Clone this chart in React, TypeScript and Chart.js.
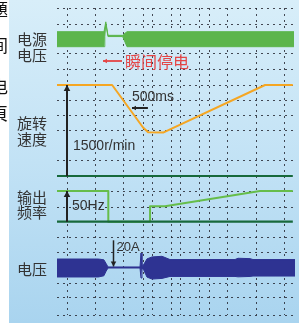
import React, { useEffect, useRef } from "react";
import { Chart, registerables } from "chart.js";

Chart.register(...registerables);

// ---------- data (time in ms) ----------
const timeMax = 7500;
const gridTimes = [310, 1190, 2070, 2700, 2980, 3580, 3860, 4460, 4770, 5330, 6240, 7120];
const gridRows = [8, 23.5, 53, 69, 85, 100, 115, 130, 160, 191, 206.5, 236.7, 252.3, 282.7, 297, 315];

// supply voltage envelope (V)
const supplyTimes = [0, 1475, 1500, 1531, 1600, 2059, 2090, 2197, 7437];
const supplyUpper = [311, 311, 311, 720, 160, 160, 200, 311, 311];
const supplyLower = [-311, -311, 120, 640, 110, 110, 20, -311, -311];

// motor speed (r/min)
const speedTimes = [0, 1730, 2700, 2860, 3330, 6530, 7400];
const speedRpm = [1500, 1500, 800, 720, 715, 1500, 1500];

// output frequency (Hz)
const freqTimes = [0, 1610, 1610, 2920, 2920, 3390, 6370, 7400];
const freqHz = [50, 50, 0, 0, 25, 25, 50, 50];

// current envelope (A)
const currentTimes = [0, 1300, 1470, 1540, 1600, 2605, 2636, 2667, 2730, 2824, 2981, 3295, 3546, 5586, 5680, 6057, 6151, 7469];
const currentUpper = [6.9, 6.9, 6.3, 3.5, 0.8, 0.8, 11.5, 1, 3, 7, 8.5, 9, 6.5, 6.5, 7.5, 7.2, 6.5, 6.5];
const currentLower = [-6.9, -6.9, -6.0, -2.5, 0, 0, -7.7, 0, -2, -7, -8.5, -8, -6.5, -6.5, -6.8, -6.5, -6.2, -6.2];

const baselineTimes = [0, 7400];

// labels
const panelLabels = [["电源", "电压"], ["旋转", "速度"], ["输出", "频率"], ["电压"]];
const outageLabel = "瞬间停电";
const speedScaleLabel = "1500r/min";
const timeScaleLabel = "500ms";
const freqScaleLabel = "50Hz";
const currentScaleLabel = "20A";
const edgeChars = ["題", "间", "电", "頁"];

// ---------- layout ----------
const W = 299, H = 323;
const AREA = { left: 57, right: 296, top: 8, bottom: 315 };
// [upper value, its pixel, lower value, its pixel]
const anchors: Record<string, number[]> = {
  ySpeed: [1500, 85, 0, 176],
  yFreq: [50, 191, 0, 221.7],
  ySupply: [311, 31.7, 0, 39.2],
  yCurrent: [20, 242, 0, 268],
};
function rangeFor(a: number[]) {
  const [v1, p1, v2, p2] = a;
  const k = (v1 - v2) / (p2 - p1);
  return { min: v1 - (AREA.bottom - p1) * k, max: v1 + (p1 - AREA.top) * k };
}

const C = {
  supply: "#5cb54c",
  speed: "#f5a623",
  freq: "#66bd4a",
  base: "#17693b",
  current: "#2e3392",
  grid: "rgba(30,30,40,0.8)",
  text: "#333333",
  red: "#e54545",
  arrow: "#222222",
};

const pts = (xs: number[], ys: number[]) => xs.map((x, i) => ({ x, y: ys[i] }));

function arrow(ctx: CanvasRenderingContext2D, x1: number, y1: number, x2: number, y2: number, color: string, lw: number, headEnd: boolean, headStart: boolean, hs = 5) {
  ctx.save();
  ctx.strokeStyle = color;
  ctx.fillStyle = color;
  ctx.lineWidth = lw;
  ctx.setLineDash([]);
  ctx.beginPath();
  ctx.moveTo(x1, y1);
  ctx.lineTo(x2, y2);
  ctx.stroke();
  const head = (xa: number, ya: number, xb: number, yb: number) => {
    const ang = Math.atan2(yb - ya, xb - xa);
    ctx.beginPath();
    ctx.moveTo(xb, yb);
    ctx.lineTo(xb - hs * Math.cos(ang) + (hs * 0.55) * Math.sin(ang), yb - hs * Math.sin(ang) - (hs * 0.55) * Math.cos(ang));
    ctx.lineTo(xb - hs * Math.cos(ang) - (hs * 0.55) * Math.sin(ang), yb - hs * Math.sin(ang) + (hs * 0.55) * Math.cos(ang));
    ctx.closePath();
    ctx.fill();
  };
  if (headEnd) head(x1, y1, x2, y2);
  if (headStart) head(x2, y2, x1, y1);
  ctx.restore();
}

const drawPlugin = {
  id: "scopeDecor",
  beforeDraw(chart: any) {
    const { ctx } = chart;
    ctx.save();
    ctx.fillStyle = "#ffffff";
    ctx.fillRect(0, 0, W, H);
    const g = ctx.createLinearGradient(0, 0, 0, H);
    g.addColorStop(0, "#d8eef9");
    g.addColorStop(0.5, "#c2e2f5");
    g.addColorStop(1, "#a9d4ef");
    ctx.fillStyle = g;
    ctx.fillRect(9, 0, W - 9, H);
    // cut-off characters of a neighbouring column
    ctx.fillStyle = "#111";
    ctx.font = "17px 'Noto Sans CJK SC'";
    ctx.textAlign = "right";
    ctx.textBaseline = "middle";
    const ey = [10, 46, 87, 114];
    edgeChars.forEach((c, i) => ctx.fillText(c, 8, ey[i]));
    // panel labels
    ctx.fillStyle = C.text;
    ctx.font = "15px 'Noto Sans CJK SC'";
    ctx.textAlign = "center";
    const centers = [[39.5, 55], [123.5, 139], [197, 212.5], [269]];
    panelLabels.forEach((lines, i) => lines.forEach((l, j) => ctx.fillText(l, 32, centers[i][j])));
    ctx.restore();
  },
  beforeDatasetsDraw(chart: any) {
    const { ctx, chartArea: a, scales } = chart;
    ctx.save();
    ctx.strokeStyle = C.grid;
    ctx.lineWidth = 1;
    ctx.setLineDash([2, 4]);
    for (const t of gridTimes) {
      const x = Math.round(scales.x.getPixelForValue(t)) + 0.5;
      ctx.beginPath();
      ctx.moveTo(x, a.top);
      ctx.lineTo(x, a.bottom);
      ctx.stroke();
    }
    for (const r of gridRows) {
      const y = Math.round(scales.yGrid.getPixelForValue(r)) + 0.5;
      ctx.beginPath();
      ctx.moveTo(a.left, y);
      ctx.lineTo(a.right, y);
      ctx.stroke();
    }
    ctx.restore();
  },
  afterDatasetsDraw(chart: any) {
    const { ctx, scales } = chart;
    const X = (t: number) => scales.x.getPixelForValue(t);
    const S = (v: number) => scales.ySpeed.getPixelForValue(v);
    const F = (v: number) => scales.yFreq.getPixelForValue(v);
    const V = (v: number) => scales.ySupply.getPixelForValue(v);
    const I = (v: number) => scales.yCurrent.getPixelForValue(v);
    const xa = Math.round(X(gridTimes[0]));
    arrow(ctx, xa, S(0), xa, S(1500), C.arrow, 2, true, false, 6);
    arrow(ctx, xa, F(0), xa, F(50), C.arrow, 2, true, false, 6);
    const xi = Math.round(X(1757)) + 0.5;
    arrow(ctx, xi, I(21.3), xi, I(1.2), C.arrow, 1.5, true, false, 5);
    arrow(ctx, X(2353), S(1121), X(2853), S(1121), C.arrow, 2, false, true, 4);
    arrow(ctx, X(1443), V(-904), X(2040), V(-904), C.red, 1.8, false, true, 4);

    ctx.save();
    ctx.textBaseline = "middle";
    ctx.textAlign = "left";
    ctx.fillStyle = C.text;
    ctx.font = "14px 'Liberation Sans', Arial";
    ctx.fillText(speedScaleLabel, X(502), S(495));
    ctx.fillText(timeScaleLabel, X(2353), S(1294));
    ctx.fillText(freqScaleLabel, X(471), F(25.6));
    ctx.font = "13px 'Liberation Sans', Arial";
    ctx.fillText(currentScaleLabel, X(1867), I(15.8));
    ctx.fillStyle = C.red;
    ctx.font = "16px 'Noto Sans CJK SC'";
    ctx.fillText(outageLabel, X(2134), V(-945));
    ctx.restore();
  },
};

export default function App() {
  const ref = useRef<HTMLCanvasElement | null>(null);
  useEffect(() => {
    if (!ref.current) return;
    const line = (label: string, data: any, yAxisID: string, color: string, width: number, extra: any = {}) => ({
      label, data, yAxisID, borderColor: color, backgroundColor: color, borderWidth: width,
      pointRadius: 0, tension: 0, fill: false, borderJoinStyle: "round", ...extra,
    });
    const chart = new Chart(ref.current, {
      type: "line",
      data: {
        datasets: [
          line("speed zero", pts(baselineTimes, [0, 0]), "ySpeed", C.base, 2.2),
          line("freq zero", pts(baselineTimes, [0, 0]), "yFreq", C.base, 2.2),
          line("frequency", pts(freqTimes, freqHz), "yFreq", C.freq, 2),
          line("speed", pts(speedTimes, speedRpm), "ySpeed", C.speed, 2),
          line("supply upper", pts(supplyTimes, supplyUpper), "ySupply", C.supply, 1, { fill: "+1" }),
          line("supply lower", pts(supplyTimes, supplyLower), "ySupply", C.supply, 1),
          line("current upper", pts(currentTimes, currentUpper), "yCurrent", C.current, 1, { fill: "+1" }),
          line("current lower", pts(currentTimes, currentLower), "yCurrent", C.current, 1),
        ] as any,
      },
      options: {
        animation: false,
        responsive: false,
        devicePixelRatio: 1,
        layout: { padding: { left: AREA.left, right: W - AREA.right, top: AREA.top, bottom: H - AREA.bottom } },
        plugins: { legend: { display: false }, tooltip: { enabled: false }, title: { display: false } },
        scales: {
          x: { type: "linear", min: 0, max: timeMax, display: false },
          yGrid: { type: "linear", min: AREA.top, max: AREA.bottom, reverse: true, display: false },
          ySpeed: { type: "linear", display: false, ...rangeFor(anchors.ySpeed) },
          yFreq: { type: "linear", display: false, ...rangeFor(anchors.yFreq) },
          ySupply: { type: "linear", display: false, ...rangeFor(anchors.ySupply) },
          yCurrent: { type: "linear", display: false, ...rangeFor(anchors.yCurrent) },
        },
      } as any,
      plugins: [drawPlugin],
    });
    return () => chart.destroy();
  }, []);
  return (
    <div style={{ position: "absolute", left: 0, top: 0, width: W, height: H }}>
      <canvas ref={ref} width={W} height={H} style={{ display: "block", width: W, height: H }} />
    </div>
  );
}
